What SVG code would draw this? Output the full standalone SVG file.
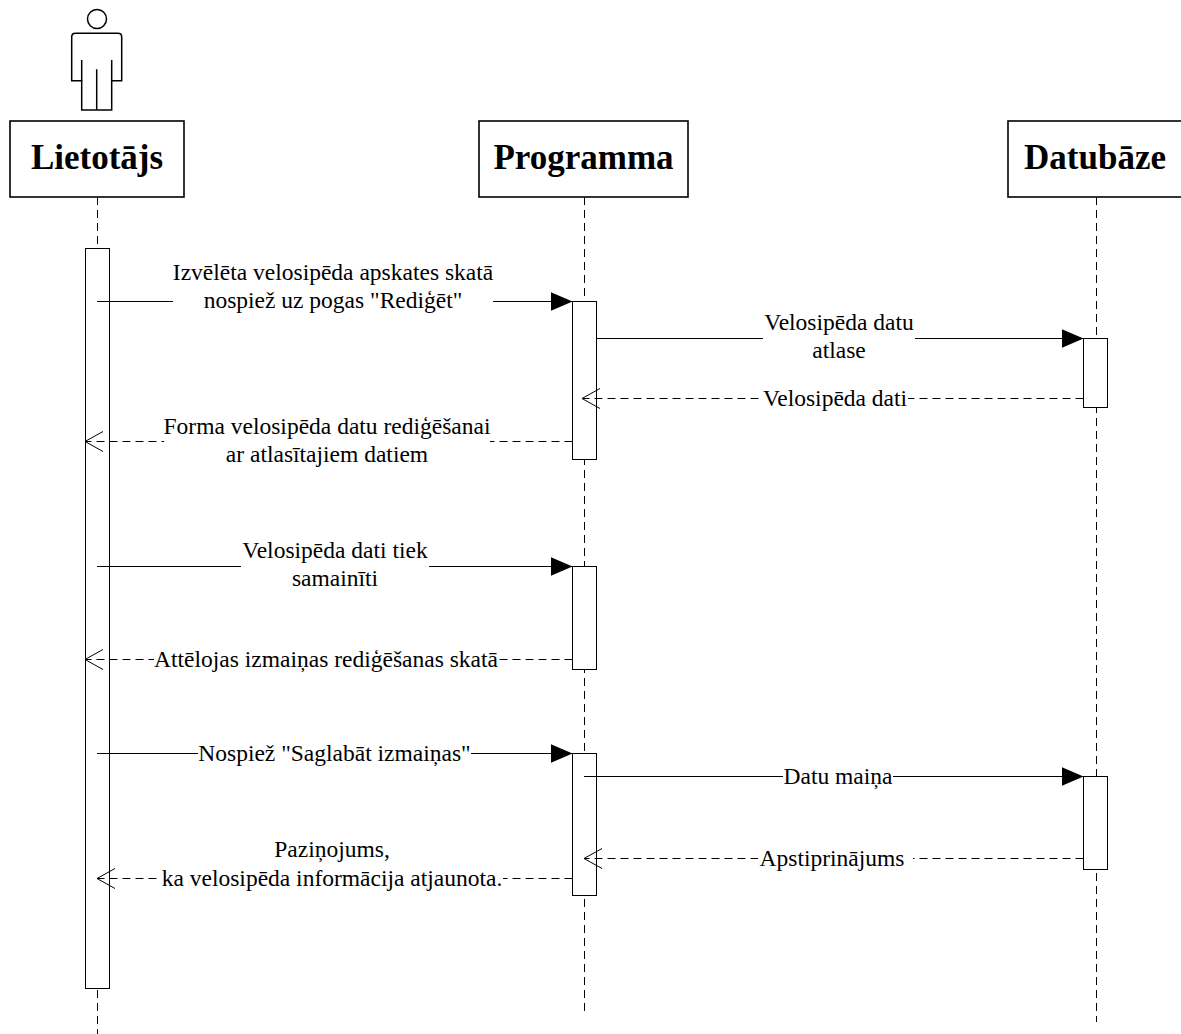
<svg xmlns="http://www.w3.org/2000/svg" width="1181" height="1034" viewBox="0 0 1181 1034">
<defs>
<style>
.hdr{fill:#fff;stroke:#000;stroke-width:1.6}
.htxt{font-family:"Liberation Serif","Times New Roman","DejaVu Serif",serif;font-weight:bold;font-size:35px;text-anchor:middle;fill:#000}
.life{stroke:#000;stroke-width:1;stroke-dasharray:8 5;fill:none}
.act{fill:#fff;stroke:#000;stroke-width:1}
.msg{stroke:#000;stroke-width:1;fill:none}
.ret{stroke:#000;stroke-width:1;fill:none;stroke-dasharray:8 5}
.lbl{font-family:"Liberation Serif","Times New Roman","DejaVu Serif",serif;font-size:23.5px;text-anchor:middle;fill:#000}
.bg{fill:#fff;stroke:none}
.filled{fill:#000;stroke:none}
.open{fill:none;stroke:#000;stroke-width:1;stroke-dasharray:none}
</style>
<marker id="solidArrow" markerUnits="userSpaceOnUse" markerWidth="22" markerHeight="19" refX="20" refY="8.5" orient="auto" viewBox="0 0 20 17">
<path class="filled" d="M0,0 L20,8.5 L0,17 Z"/>
</marker>
<marker id="openArrow" markerUnits="userSpaceOnUse" markerWidth="20" markerHeight="22" refX="18" refY="10" orient="auto" viewBox="-1 -1 20 22">
<path class="open" d="M0,0 L18,10 L0,20"/>
</marker>
</defs>
<rect width="1181" height="1034" fill="#fff"/>

<g id="lifelines">
<line class="life" x1="97.5" y1="197" x2="97.5" y2="1034"/>
<line class="life" x1="584.5" y1="197" x2="584.5" y2="1012"/>
<line class="life" x1="1096.5" y1="197" x2="1096.5" y2="1022"/>
</g>

<g id="lietotajs">
<circle cx="97" cy="19" r="9.5" fill="#fff" stroke="#000" stroke-width="1.5"/>
<path d="M81.7,110 L81.7,80.7 L71.7,80.7 L71.7,37 Q71.7,33.3 75.4,33.3 L118,33.3 Q121.7,33.3 121.7,37 L121.7,80.7 L111.7,80.7 L111.7,110 Z" fill="#fff" stroke="#000" stroke-width="1.5"/>
<path d="M81.7,60 L81.7,80.7 M111.7,60 L111.7,80.7 M96.7,69.3 L96.7,110" fill="none" stroke="#000" stroke-width="1.5"/>
<rect class="hdr" x="10" y="121" width="174" height="76"/>
<text class="htxt" x="97" y="169">Lietotājs</text>
<rect class="act" x="85.5" y="248.5" width="24" height="740"/>
</g>

<g id="programma">
<rect class="hdr" x="479" y="121" width="209" height="76"/>
<text class="htxt" x="583.5" y="169">Programma</text>
<rect class="act" x="572.5" y="301.5" width="24" height="158"/>
<rect class="act" x="572.5" y="566.5" width="24" height="103"/>
<rect class="act" x="572.5" y="753.5" width="24" height="142"/>
</g>

<g id="datubaze">
<rect class="hdr" x="1008" y="121" width="176" height="76"/>
<text class="htxt" x="1095" y="169">Datubāze</text>
<rect class="act" x="1083.5" y="338.5" width="24" height="69"/>
<rect class="act" x="1083.5" y="776.5" width="24" height="93"/>
</g>

<g id="connectors">
<line class="msg" x1="97" y1="301.5" x2="572.5" y2="301.5" marker-end="url(#solidArrow)"/>
<rect class="bg" x="173" y="262" width="320" height="52"/>
<text class="lbl" x="333" y="280">Izvēlēta velosipēda apskates skatā</text>
<text class="lbl" x="333" y="308">nospiež uz pogas "Rediģēt"</text>

<line class="msg" x1="596.5" y1="338.5" x2="1083.5" y2="338.5" marker-end="url(#solidArrow)"/>
<rect class="bg" x="763" y="312" width="152" height="52"/>
<text class="lbl" x="839" y="330">Velosipēda datu</text>
<text class="lbl" x="839" y="358">atlase</text>

<line class="ret" x1="1083.5" y1="398.5" x2="582" y2="398.5" marker-end="url(#openArrow)"/>
<rect class="bg" x="762" y="386" width="146" height="24"/>
<text class="lbl" x="835" y="406">Velosipēda dati</text>

<line class="ret" x1="572.5" y1="441.5" x2="85" y2="441.5" marker-end="url(#openArrow)"/>
<rect class="bg" x="164" y="415" width="326" height="52"/>
<text class="lbl" x="327" y="434">Forma velosipēda datu rediģēšanai</text>
<text class="lbl" x="327" y="462">ar atlasītajiem datiem</text>

<line class="msg" x1="97" y1="566.5" x2="572.5" y2="566.5" marker-end="url(#solidArrow)"/>
<rect class="bg" x="241" y="538" width="188" height="52"/>
<text class="lbl" x="335" y="558">Velosipēda dati tiek</text>
<text class="lbl" x="335" y="586">samainīti</text>

<line class="ret" x1="572.5" y1="659.5" x2="85" y2="659.5" marker-end="url(#openArrow)"/>
<rect class="bg" x="154" y="647" width="344" height="24"/>
<text class="lbl" x="326" y="667">Attēlojas izmaiņas rediģēšanas skatā</text>

<line class="msg" x1="97" y1="753.5" x2="572.5" y2="753.5" marker-end="url(#solidArrow)"/>
<rect class="bg" x="198" y="741" width="273" height="24"/>
<text class="lbl" x="334.5" y="761">Nospiež "Saglabāt izmaiņas"</text>

<line class="msg" x1="584" y1="776.5" x2="1083.5" y2="776.5" marker-end="url(#solidArrow)"/>
<rect class="bg" x="783" y="764" width="110" height="24"/>
<text class="lbl" x="838" y="784">Datu maiņa</text>

<line class="ret" x1="1083.5" y1="858.5" x2="584" y2="858.5" marker-end="url(#openArrow)"/>
<rect class="bg" x="758" y="846" width="155" height="24"/>
<text class="lbl" x="832" y="866">Apstiprinājums</text>

<line class="ret" x1="572.5" y1="878.5" x2="97" y2="878.5" marker-end="url(#openArrow)"/>
<rect class="bg" x="161" y="838" width="342" height="52"/>
<text class="lbl" x="332" y="857">Paziņojums,</text>
<text class="lbl" x="332" y="886">ka velosipēda informācija atjaunota.</text>
</g>
</svg>
